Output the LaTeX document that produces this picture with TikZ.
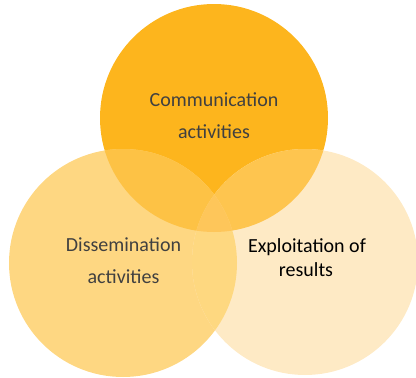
\documentclass[tikz,border=0pt]{standalone}
\usepackage{fontspec}
\setmainfont{Carlito}
\definecolor{cTop}{HTML}{FDB51D}
\definecolor{cLeft}{HTML}{FED782}
\definecolor{cRight}{HTML}{FEEAC5}
\definecolor{cTL}{HTML}{FDC245}
\definecolor{cTR}{HTML}{FEC54F}
\definecolor{cLR}{HTML}{FED880}
\definecolor{cMid}{HTML}{FEC65A}
\definecolor{cGray}{HTML}{404040}
\tikzset{
  lbl/.style={anchor=base, inner sep=0pt, font=\fontsize{20}{24}\selectfont},
}
\begin{document}
\begin{tikzpicture}[x=1pt,y=-1pt]
\useasboundingbox (0,0) rectangle (416,378);
\coordinate (T) at (214,118);
\coordinate (L) at (123,263);
\coordinate (R) at (305,262);
\fill[cTop] (T) circle (114);
\fill[cLeft] (L) circle (114);
\fill[cRight] (R) circle (113);
\begin{scope}
  \clip (T) circle (114);
  \fill[cTL] (L) circle (114);
\end{scope}
\begin{scope}
  \clip (T) circle (114);
  \fill[cTR] (R) circle (113);
\end{scope}
\begin{scope}
  \clip (L) circle (114);
  \fill[cLR] (R) circle (113);
\end{scope}
\begin{scope}
  \clip (T) circle (114);
  \clip (L) circle (114);
  \fill[cMid] (R) circle (113);
\end{scope}
\node[lbl, text=cGray] (comm1) at (214,106) {Communication};
\node[lbl, text=cGray] (comm2) at (214,138) {activities};
\node[lbl, text=cGray] (diss1) at (123.5,251) {Dissemination};
\node[lbl, text=cGray] (diss2) at (123.5,283) {activities};
\node[lbl, text=black] (expl1) at (307,252) {Exploitation of};
\node[lbl, text=black] (expl2) at (306,276) {results};
\end{tikzpicture}
\end{document}
